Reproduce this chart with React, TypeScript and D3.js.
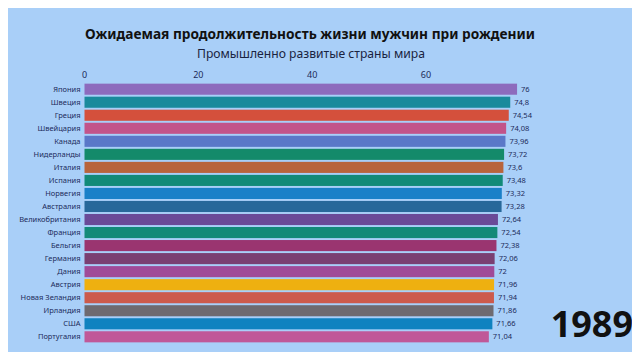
import React, { useRef, useEffect } from 'react';
import * as d3 from 'd3';

// Страны и значения (1989)
const countries = [
  'Япония', 'Швеция', 'Греция', 'Швейцария', 'Канада', 'Нидерланды', 'Италия',
  'Испания', 'Норвегия', 'Австралия', 'Великобритания', 'Франция', 'Бельгия',
  'Германия', 'Дания', 'Австрия', 'Новая Зеландия', 'Ирландия', 'США', 'Португалия'
];
const values = [
  76, 74.8, 74.54, 74.08, 73.96, 73.72, 73.6, 73.48, 73.32, 73.28,
  72.64, 72.54, 72.38, 72.06, 72, 71.96, 71.94, 71.86, 71.66, 71.04
];
const labels = [
  '76', '74,8', '74,54', '74,08', '73,96', '73,72', '73,6', '73,48', '73,32', '73,28',
  '72,64', '72,54', '72,38', '72,06', '72', '71,96', '71,94', '71,86', '71,66', '71,04'
];
const colors = [
  '#8d6bbd', '#1a8a9c', '#d4503c', '#c2548a', '#5a78c8', '#148a6a', '#b8643c',
  '#128a78', '#1a80c8', '#27689a', '#6a4a98', '#138a78', '#9a3570', '#7a3f72',
  '#a04a98', '#eeb010', '#cc5a4c', '#6e6a70', '#0f82c0', '#c05898'
];
const ticks = [0, 20, 40, 60];
const year = '1989';

const App = () => {
  const ref = useRef<HTMLDivElement>(null);

  useEffect(() => {
    const width = 640;
    const height = 360;
    const font = '"Noto Sans", "Open Sans", sans-serif';
    const ink = '#1c2b5a';

    d3.select(ref.current).selectAll('svg').remove();

    const svg = d3.select(ref.current)
      .append('svg')
      .attr('width', width)
      .attr('height', height)
      .style('display', 'block');

    svg.append('rect')
      .attr('width', width)
      .attr('height', height)
      .attr('fill', '#a9cff8');

    const x = d3.scaleLinear().domain([0, 60]).range([84.5, 426]);
    const y = d3.scaleBand().domain(countries).range([83, 343]).paddingInner(0.15).paddingOuter(0.05);

    // заголовок (шрифт в оригинале уже, поэтому сжимаем)
    svg.append('text')
      .attr('x', 85).attr('y', 39)
      .attr('textLength', 450)
      .attr('lengthAdjust', 'spacingAndGlyphs')
      .style('font-family', font).style('font-weight', 'bold').style('font-size', '15px')
      .attr('fill', '#111')
      .text('Ожидаемая продолжительность жизни мужчин при рождении');

    svg.append('text')
      .attr('x', 197).attr('y', 57.5)
      .attr('textLength', 228)
      .attr('lengthAdjust', 'spacingAndGlyphs')
      .style('font-family', font).style('font-size', '12.5px')
      .attr('fill', '#1a2340')
      .text('Промышленно развитые страны мира');

    // ось сверху
    svg.append('g').selectAll('text')
      .data(ticks)
      .enter().append('text')
      .attr('x', d => x(d))
      .attr('y', 78)
      .attr('text-anchor', 'middle')
      .style('font-family', font).style('font-size', '9px')
      .attr('fill', ink)
      .text(d => d);

    const rows = svg.append('g').selectAll('g')
      .data(countries)
      .enter().append('g');

    rows.append('rect')
      .attr('x', x(0))
      .attr('y', d => y(d))
      .attr('height', y.bandwidth())
      .attr('width', (d, i) => x(values[i]) - x(0))
      .attr('fill', (d, i) => colors[i]);

    rows.append('text')
      .attr('x', x(0) - 4)
      .attr('y', d => y(d) + y.bandwidth() / 2)
      .attr('dy', '0.35em')
      .attr('text-anchor', 'end')
      .style('font-family', font).style('font-size', '7.5px')
      .attr('fill', ink)
      .text(d => d);

    rows.append('text')
      .attr('x', (d, i) => x(values[i]) + 4)
      .attr('y', d => y(d) + y.bandwidth() / 2)
      .attr('dy', '0.35em')
      .style('font-family', font).style('font-size', '7.5px')
      .attr('fill', ink)
      .text((d, i) => labels[i]);

    svg.append('text')
      .attr('x', 633).attr('y', 337)
      .attr('text-anchor', 'end')
      .style('font-family', font).style('font-weight', 'bold').style('font-size', '36px')
      .attr('fill', '#111')
      .text(year);
  }, []);

  return <div ref={ref} style={{ margin: -8 }} />;
};

export default App;
